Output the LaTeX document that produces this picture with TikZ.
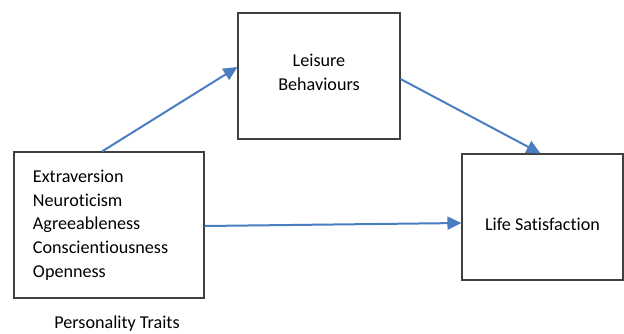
\documentclass[tikz,border=0pt]{standalone}
\usepackage{fontspec}
\setmainfont[RawFeature={-liga;-dlig}]{Carlito}
\usepackage{tikz}
\usetikzlibrary{arrows.meta}
\definecolor{linkblue}{RGB}{74,126,193}
\tikzset{box/.style={draw=black!75, line width=1.1bp, inner sep=0pt},
         link/.style={draw=linkblue, line width=2bp, -{Triangle[length=14bp,width=13bp]}}}

\begin{document}
\begin{tikzpicture}[x=1bp, y=1bp, font=\fontsize{18.2}{23.8}\selectfont]

\useasboundingbox (0,0) rectangle (624,333);

\node[box, minimum width=190bp, minimum height=146bp, text width=152bp,
      inner xsep=19bp, align=left] (traits) at (109,108)
      {Extraversion\\Neuroticism\\Agreeableness\\Conscientiousness\\Openness};
\node[anchor=base] (traitsname) at (117,5) {Personality Traits};

\node[box, minimum width=162bp, minimum height=126bp, align=center,
      text depth=8bp] (leisure) at (319,257) {Leisure\\Behaviours};

\node[box, minimum width=161bp, minimum height=126bp, text height=26bp,
      text depth=0pt] (life) at (542.5,116) {Life Satisfaction};

\draw[link] ([xshift=-7bp]traits.north) -- ([yshift=9bp]leisure.west);
\draw[link] ([yshift=-3bp]leisure.east) -- ([xshift=-2bp]life.north);
\draw[link] ([yshift=-1bp]traits.east) -- ([yshift=-6bp]life.west);

\end{tikzpicture}
\end{document}
